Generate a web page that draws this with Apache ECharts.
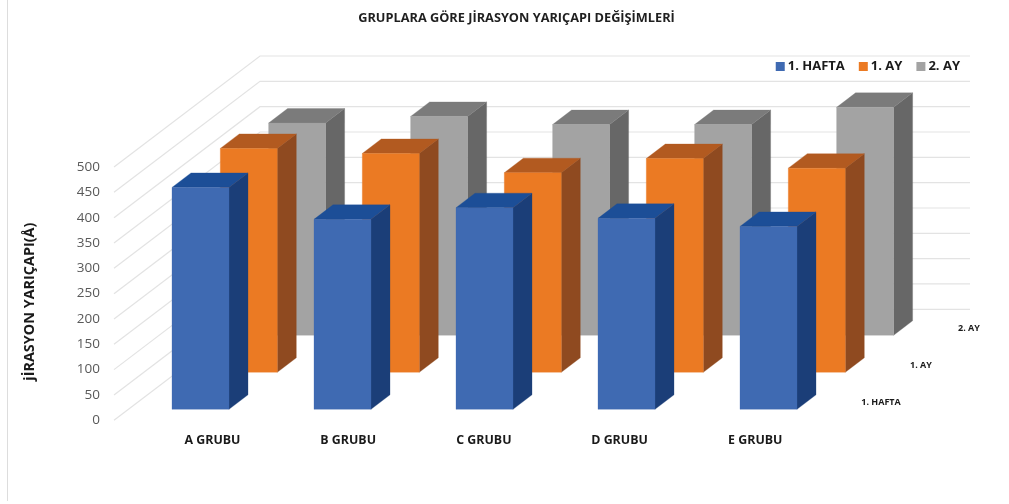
<!DOCTYPE html>
<html>
<head>
<meta charset="utf-8">
<style>html,body{margin:0;padding:0;background:#fff}#c{width:1009px;height:504px}</style>
<script src="https://cdn.jsdelivr.net/npm/echarts@6/dist/echarts.min.js"></script>
</head>
<body>
<div id="c"></div>
<script>
var categories = ['A GRUBU', 'B GRUBU', 'C GRUBU', 'D GRUBU', 'E GRUBU'];
var seriesNames = ['1. HAFTA', '1. AY', '2. AY'];
var hafta1 = [438, 375, 398, 377, 361];
var ay1 = [442, 432, 394, 422, 403];
var ay2 = [419, 432, 416, 416, 450];
var valueTicks = [0, 50, 100, 150, 200, 250, 300, 350, 400, 450, 500];
var titleText = 'GRUPLARA GÖRE JİRASYON YARIÇAPI DEĞİŞİMLERİ';
var yName = 'jİRASYON YARIÇAPI(Å)';

var FONT = '"Open Sans","Noto Sans",sans-serif';
var WALL_DX = 146, WALL_DY = -111, RIGHT_END = 970;
var BAR_W = 57, BAR_DX = 19, BAR_DY = -14.5;
var ROW0_DX = -13, ROW0_DY = -11, ROW_DX = 48.3, ROW_DY = -37;
var DEPTH_LABEL_DX = [128, 168, 216];

var palettes = [
  {front: '#3f6ab2', side: '#1b3e78', top: '#1c4e97'},
  {front: '#eb7a23', side: '#8f4a20', top: '#b25a20'},
  {front: '#a3a3a3', side: '#676767', top: '#7b7b7b'}
];
var seriesValues = [hafta1, ay1, ay2];

function barSeries(row) {
  var p = palettes[row];
  return {
    type: 'custom', name: seriesNames[row], xAxisIndex: 0, yAxisIndex: 0,
    coordinateSystem: 'cartesian2d', z: 10 - row, clip: false,
    itemStyle: {color: p.front},
    data: seriesValues[row].map(function (v, i) { return [i, v]; }),
    encode: {x: 0, y: 1},
    renderItem: function (params, api) {
      var i = api.value(0), v = api.value(1);
      var top = api.coord([i, v]), base = api.coord([i, 0]);
      var x = top[0] + ROW0_DX + row * ROW_DX;
      var off = ROW0_DY + row * ROW_DY;
      var yT = top[1] + off, yB = base[1] + off;
      var x2 = x + BAR_W;
      function poly(pts, c) {
        return {type: 'polygon', shape: {points: pts}, style: {fill: c, stroke: c, lineWidth: 0.3}};
      }
      return {type: 'group', children: [
        poly([[x2, yT], [x2 + BAR_DX, yT + BAR_DY], [x2 + BAR_DX, yB + BAR_DY], [x2, yB]], p.side),
        poly([[x, yT], [x + BAR_DX, yT + BAR_DY], [x2 + BAR_DX, yT + BAR_DY], [x2, yT]], p.top),
        poly([[x, yT], [x2, yT], [x2, yB], [x, yB]], p.front)
      ]};
    }
  };
}

var option = {
  animation: false,
  backgroundColor: '#fff',
  title: {
    text: titleText, left: 511.5, top: 7, textAlign: 'center',
    textStyle: {fontFamily: FONT, fontSize: 12.75, fontWeight: 'bold', color: '#1f1f1f'}
  },
  legend: {
    right: 44, top: 55, itemWidth: 9, itemHeight: 9, itemGap: 14,
    data: seriesNames.map(function (n, i) {
      return {name: n, icon: 'rect', itemStyle: {color: palettes[i].front}};
    }),
    selectedMode: false,
    textStyle: {fontFamily: FONT, fontSize: 13, fontWeight: 'bold', color: '#1a1a1a', padding: [0, 0, 0, -2]}
  },
  grid: [
    {left: 114, width: 710, top: 167, height: 253.3},
    {left: 144.6, width: 678.5, top: 167, height: 253.3}
  ],
  xAxis: [
    {type: 'category', gridIndex: 0, data: categories, show: false},
    {
      type: 'category', gridIndex: 1, data: categories,
      axisLine: {show: false}, axisTick: {show: false},
      axisLabel: {margin: 14, fontFamily: FONT, fontSize: 12.4, fontWeight: 'bold', color: '#1a1a1a'}
    }
  ],
  yAxis: [
    {
      type: 'value', gridIndex: 0, min: 0, max: 500, interval: 50,
      name: yName, nameLocation: 'middle', nameGap: 77, nameRotate: 90,
      nameTextStyle: {fontFamily: FONT, fontSize: 14.4, fontWeight: 'bold', color: '#1a1a1a', padding: [0, 16, 0, 0]},
      axisLine: {show: false}, axisTick: {show: false}, splitLine: {show: false},
      axisLabel: {margin: 14, fontFamily: FONT, fontSize: 13.5, color: '#595959'}
    },
    {type: 'value', gridIndex: 1, min: 0, max: 500, interval: 50, show: false}
  ],
  graphic: [{
    type: 'line', silent: true, z: 0,
    shape: {x1: 7.5, y1: 0, x2: 7.5, y2: 501},
    style: {stroke: '#dddddd', lineWidth: 1}
  }],
  series: [
    {
      type: 'custom', name: 'wall', xAxisIndex: 0, yAxisIndex: 0, z: 1, silent: true, clip: false,
      data: valueTicks.map(function (v) { return [0, v]; }),
      encode: {x: 0, y: 1},
      renderItem: function (params, api) {
        var c = api.coord([0, api.value(1)]);
        var x0 = params.coordSys.x, y0 = c[1];
        return {
          type: 'polyline',
          shape: {points: [[x0, y0], [x0 + WALL_DX, y0 + WALL_DY], [RIGHT_END, y0 + WALL_DY]]},
          style: {fill: 'none', stroke: '#e3e3e3', lineWidth: 1.2}
        };
      }
    },
    barSeries(0), barSeries(1), barSeries(2),
    {
      type: 'custom', name: 'depth', xAxisIndex: 0, yAxisIndex: 0, z: 11, silent: true, clip: false,
      data: seriesNames.map(function (n, i) { return [4, 0, i]; }),
      encode: {x: 0, y: 1},
      renderItem: function (params, api) {
        var row = api.value(2);
        var c = api.coord([4, 0]);
        return {
          type: 'text',
          x: c[0] + DEPTH_LABEL_DX[row],
          y: c[1] - 18 - row * 37,
          style: {
            text: seriesNames[row], fontFamily: FONT, fontSize: 9, fontWeight: 'bold',
            fill: '#1a1a1a', align: 'center', verticalAlign: 'middle'
          }
        };
      }
    }
  ]
};
var chart = echarts.init(document.getElementById('c'), null, {renderer: 'canvas'});
chart.setOption(option);
</script>
</body>
</html>
